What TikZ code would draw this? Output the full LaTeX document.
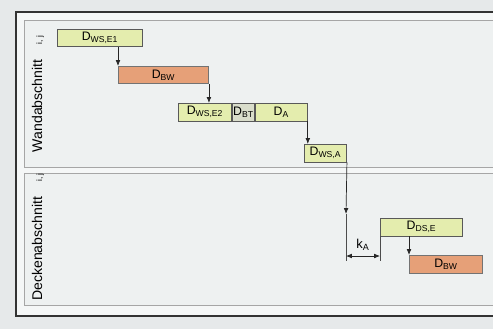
\documentclass[tikz,border=0pt]{standalone}
\usepackage{fontspec}
\setmainfont{Liberation Sans}
\usetikzlibrary{arrows.meta}

\definecolor{pagebg}{HTML}{E6E9EA}
\definecolor{panelbg}{HTML}{EEF1F1}
\definecolor{greenbar}{HTML}{E4EDAE}
\definecolor{greyseg}{HTML}{D9DDCB}
\definecolor{orangebar}{HTML}{E6A078}

\begin{document}
\begin{tikzpicture}[
  x=0.3mm, y=0.3mm,
  greenbox/.style={rectangle, draw=black!65, fill=greenbar, line width=0.8pt,
                   anchor=north west, minimum height=17.5*0.3mm, inner sep=0pt,
                   font=\fontsize{10.5}{12}\selectfont},
  greybox/.style={greenbox, fill=greyseg},
  orangebox/.style={greenbox, fill=orangebar, draw=black!55},
  flow/.style={draw=black!85, line width=0.6pt, -{Latex[length=5pt,width=4pt]}},
  extline/.style={draw=black!70, line width=0.4pt},
  panel/.style={draw=black!35, fill=panelbg, line width=0.5pt},
  sidelabel/.style={rotate=90, font=\fontsize{12}{14}\selectfont},
]

% ── Page and frames ────────────────────────────────────────────────────
\fill[pagebg] (0,0) rectangle (493,329);
\useasboundingbox (0,0) rectangle (493,329);
\begin{scope}
\clip (0,0) rectangle (493,329);
\draw[black!80, line width=1pt, fill=panelbg!60] (16,13) rectangle (510,317);
\draw[panel] (24,162) rectangle (510,309);
\draw[panel] (24,24) rectangle (510,156);
\end{scope}

\node[sidelabel] (wall)  at (38,235) {Wandabschnitt\hspace{1.1em}{\fontsize{7}{8}\selectfont i, j}};
\node[sidelabel] (slab)  at (38,92)  {Deckenabschnitt\hspace{1.1em}{\fontsize{7}{8}\selectfont i, j}};

% ── Wall section ───────────────────────────────────────────────────────
\node[greenbox, minimum width=85*0.3mm]  (wse1) at (57,300)  {D\textsubscript{WS,E1}};
\node[orangebox, minimum width=90*0.3mm] (bw1)  at (118,263) {D\textsubscript{BW}};
\node[greenbox, minimum width=53*0.3mm]  (wse2) at (178,226) {D\textsubscript{WS,E2}};
\node[greybox, minimum width=22*0.3mm]   (bt)   at (wse2.north east) {D\textsubscript{BT}};
\node[greenbox, minimum width=52*0.3mm]  (da)   at (bt.north east)   {D\textsubscript{A}};
\node[greenbox, minimum width=42*0.3mm]  (wsa)  at (304,185) {D\textsubscript{WS,A}};

\draw[flow] (bw1.north west |- wse1.south) -- (bw1.north west);
\draw[flow] (bw1.south east) -- (bw1.south east |- wse2.north);
\draw[flow] (da.south east) -- (da.south east |- wsa.north);

% ── Slab section ───────────────────────────────────────────────────────
\node[greenbox, minimum width=82*0.3mm]  (dse) at (380,111) {D\textsubscript{DS,E}};
\node[orangebox, minimum width=73*0.3mm] (bw2) at (409,74)  {D\textsubscript{BW}};

\draw[flow] (bw2.north west |- dse.south) -- (bw2.north west);

% ── Offset k_A ─────────────────────────────────────────────────────────
\coordinate (mid)  at (346,115);
\coordinate (kaL)  at (346,73);
\coordinate (kaR)  at (380,73);
\coordinate (lowL) at (346,68);
\coordinate (lowR) at (380,68);

\draw[flow] (wsa.south east) -- (mid);
\draw[extline] (mid) -- (lowL);
\draw[extline] (dse.south west) -- (lowR);
\draw[draw=black!85, line width=0.6pt, {Latex[length=5pt,width=4pt]}-{Latex[length=5pt,width=4pt]}]
  (kaL) -- node[above=1pt, font=\fontsize{11}{12}\selectfont] (ka) {k\textsubscript{A}} (kaR);

\end{tikzpicture}
\end{document}
